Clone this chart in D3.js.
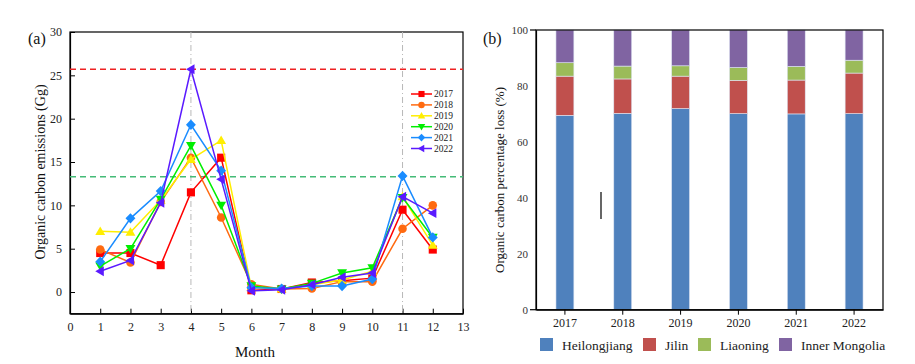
<!DOCTYPE html>
<html><head><meta charset="utf-8">
<script src="https://cdn.jsdelivr.net/npm/d3@7"></script>
<style>body{margin:0;background:#fff;} svg{display:block;font-family:"Liberation Serif","Times New Roman",serif;}</style>
</head><body>
<svg id="c" width="915" height="364"></svg>
<script>
const months = [1,2,3,4,5,6,7,8,9,10,11,12];
const years = ["2017","2018","2019","2020","2021","2022"];
const s2017 = [4.5,4.5,3.1,11.5,15.5,0.2,0.35,1.1,1.3,1.6,9.5,4.9];
const s2018 = [4.9,3.4,10.4,15.5,8.6,0.9,0.35,0.4,1.2,1.2,7.3,10.0];
const s2019 = [7.0,6.9,10.6,15.3,17.5,0.5,0.35,0.85,1.4,2.4,11.0,5.4];
const s2020 = [3.0,5.0,10.7,16.9,10.0,0.7,0.35,1.0,2.2,2.8,10.9,6.3];
const s2021 = [3.5,8.5,11.65,19.3,14.0,0.5,0.4,0.7,0.7,1.5,13.4,6.3];
const s2022 = [2.4,3.65,10.3,25.7,13.0,0.15,0.25,0.85,1.7,2.2,11.0,9.1];
const lineColors = ["#ff0000","#ff6a10","#ffee00","#00ee00","#1a8cff","#5a1aff"];
const symbols = ["square","circle","up","down","diamond","left"];
const refHigh = 25.7, refLow = 13.3, refMonths = [4,11];
const xTicksA = d3.range(0,14);
const yTicksA = [0,5,10,15,20,25,30];

const barYears = ["2017","2018","2019","2020","2021","2022"];
const provinces = ["Heilongjiang","Jilin","Liaoning","Inner Mongolia"];
const heilongjiang = [69.5,70.2,71.9,70.1,70.0,70.1];
const jilin = [14.0,12.3,11.6,11.9,12.1,14.5];
const liaoning = [4.8,4.6,3.7,4.6,4.9,4.6];
const innerMongolia = [11.7,12.9,12.8,13.4,13.0,10.8];
const barColors = ["#4f81bd","#c0504d","#9bbb59","#8064a2"];
const yTicksB = [0,20,40,60,80,100];

const svg = d3.select("#c");

// ---------- Chart (a) ----------
const xa = d3.scaleLinear().domain([0,13]).range([70,463]);
const ya = d3.scaleLinear().domain([-2.5,30]).range([313.7,32]);
const ga = svg.append("g");
ga.append("rect").attr("x",70).attr("y",32).attr("width",393).attr("height",281.7)
  .attr("fill","none").attr("stroke","#000").attr("stroke-width",1.2);
ga.append("g").attr("transform","translate(0,313.7)")
  .call(d3.axisBottom(xa).tickValues(xTicksA).tickSizeInner(-5).tickSizeOuter(0).tickPadding(9))
  .call(g=>{g.select(".domain").attr("stroke","#000").attr("stroke-width",1.2);
    g.selectAll("text").attr("font-size",12).attr("font-family","Liberation Serif").attr("fill","#222");});
ga.append("g").attr("transform","translate(70,0)")
  .call(d3.axisLeft(ya).tickValues(yTicksA).tickSizeInner(-5).tickSizeOuter(0).tickPadding(8))
  .call(g=>{g.select(".domain").attr("stroke","#000").attr("stroke-width",1.2);
    g.selectAll("text").attr("font-size",12).attr("font-family","Liberation Serif").attr("fill","#222");});
// reference lines
refMonths.forEach(m=>{
  ga.append("line").attr("x1",xa(m)).attr("x2",xa(m)).attr("y1",32).attr("y2",313.7)
    .attr("stroke","#b8b8b8").attr("stroke-width",1).attr("stroke-dasharray","6,3,1,3");
});
ga.append("line").attr("x1",70).attr("x2",463).attr("y1",ya(refHigh)).attr("y2",ya(refHigh))
  .attr("stroke","#ee2222").attr("stroke-width",1.5).attr("stroke-dasharray","6,4");
ga.append("line").attr("x1",70).attr("x2",463).attr("y1",ya(refLow)).attr("y2",ya(refLow))
  .attr("stroke","#44bb77").attr("stroke-width",1.3).attr("stroke-dasharray","6,4");

const series = [s2017,s2018,s2019,s2020,s2021,s2022];
function marker(g, type, x, y, col, s){
  s = s||4.5;
  let p;
  if(type==="square") p = g.append("rect").attr("x",x-s*0.9).attr("y",y-s*0.9).attr("width",s*1.8).attr("height",s*1.8);
  else if(type==="circle") p = g.append("circle").attr("cx",x).attr("cy",y).attr("r",s*0.95);
  else if(type==="up") p = g.append("path").attr("d",`M${x},${y-s*1.1}L${x+s*1.1},${y+s*0.8}L${x-s*1.1},${y+s*0.8}Z`);
  else if(type==="down") p = g.append("path").attr("d",`M${x},${y+s*1.1}L${x+s*1.1},${y-s*0.8}L${x-s*1.1},${y-s*0.8}Z`);
  else if(type==="diamond") p = g.append("path").attr("d",`M${x},${y-s*1.15}L${x+s*1.1},${y}L${x},${y+s*1.15}L${x-s*1.1},${y}Z`);
  else if(type==="left") p = g.append("path").attr("d",`M${x-s*1.1},${y}L${x+s*0.8},${y-s*1.1}L${x+s*0.8},${y+s*1.1}Z`);
  p.attr("fill",col);
}
const line = d3.line().x((d,i)=>xa(months[i])).y(d=>ya(d));
series.forEach((s,k)=>{
  const g = ga.append("g");
  g.append("path").datum(s).attr("d",line).attr("fill","none").attr("stroke",lineColors[k]).attr("stroke-width",1.5);
  s.forEach((v,i)=>marker(g,symbols[k],xa(months[i]),ya(v),lineColors[k]));
});
// legend (a)
const lg = ga.append("g");
years.forEach((y,k)=>{
  const yy = 94 + k*10.9;
  lg.append("line").attr("x1",411).attr("x2",432).attr("y1",yy).attr("y2",yy).attr("stroke",lineColors[k]).attr("stroke-width",1.5);
  marker(lg,symbols[k],421.5,yy,lineColors[k],3.4);
  lg.append("text").attr("x",434).attr("y",yy+3.3).attr("font-size",9.5).attr("fill","#222").text(y);
});
ga.append("text").attr("x",28).attr("y",44).attr("font-size",16).attr("fill","#111").text("(a)");
ga.append("text").attr("transform","translate(45,172) rotate(-90)").attr("text-anchor","middle")
  .attr("font-size",14).attr("fill","#111").text("Organic carbon emissions (Gg)");
ga.append("text").attr("x",255).attr("y",357).attr("text-anchor","middle").attr("font-size",15).attr("fill","#111").text("Month");

// ---------- Chart (b) ----------
const xb = d3.scaleBand().domain(barYears).range([536,883]).paddingInner(0.69).paddingOuter(0.345);
const yb = d3.scaleLinear().domain([0,100]).range([309.7,30]);
const gb = svg.append("g");
const table = barYears.map((y,i)=>({year:y,"Heilongjiang":heilongjiang[i],"Jilin":jilin[i],"Liaoning":liaoning[i],"Inner Mongolia":innerMongolia[i]}));
const stack = d3.stack().keys(provinces)(table);
stack.forEach((layer,k)=>{
  gb.append("g").selectAll("rect").data(layer).join("rect")
    .attr("x",d=>xb(d.data.year)).attr("width",xb.bandwidth())
    .attr("y",d=>yb(d[1])).attr("height",d=>yb(d[0])-yb(d[1]))
    .attr("fill",barColors[k]).attr("stroke","#dfe6f4").attr("stroke-width",0.6);
});
gb.append("rect").attr("x",536).attr("y",30).attr("width",347).attr("height",279.7)
  .attr("fill","none").attr("stroke","#000").attr("stroke-width",1.2);
gb.append("g").attr("transform","translate(0,309.7)")
  .call(d3.axisBottom(xb).tickSizeInner(5).tickSizeOuter(0).tickPadding(4))
  .call(g=>{g.select(".domain").attr("stroke","#000").attr("stroke-width",1.2);
    g.selectAll("text").attr("font-size",12).attr("font-family","Liberation Serif").attr("fill","#222");});
gb.append("g").attr("transform","translate(536,0)")
  .call(d3.axisLeft(yb).tickValues(yTicksB).tickSizeInner(0).tickSizeOuter(0).tickPadding(8))
  .call(g=>{g.select(".domain").attr("stroke","#000").attr("stroke-width",1.2);
    g.selectAll("text").attr("font-size",11).attr("font-family","Liberation Serif").attr("fill","#333");});
[0,100].forEach(v=>gb.append("line").attr("x1",530).attr("x2",536).attr("y1",yb(v)).attr("y2",yb(v)).attr("stroke","#000").attr("stroke-width",1.2));
// stray mark
gb.append("line").attr("x1",601).attr("x2",601).attr("y1",192).attr("y2",219).attr("stroke","#000").attr("stroke-width",1.2);
gb.append("text").attr("x",483).attr("y",44).attr("font-size",16).attr("fill","#111").text("(b)");
gb.append("text").attr("transform","translate(504,180) rotate(-90)").attr("text-anchor","middle")
  .attr("font-size",13).attr("fill","#111").text("Organic carbon percentage loss (%)");
const legX = [540,643,698,779];
provinces.forEach((p,k)=>{
  gb.append("rect").attr("x",legX[k]).attr("y",338).attr("width",13).attr("height",13).attr("fill",barColors[k]);
  gb.append("text").attr("x",legX[k]+22).attr("y",349.5).attr("font-size",13.5).attr("fill","#222").text(p);
});
</script>
</body></html>
